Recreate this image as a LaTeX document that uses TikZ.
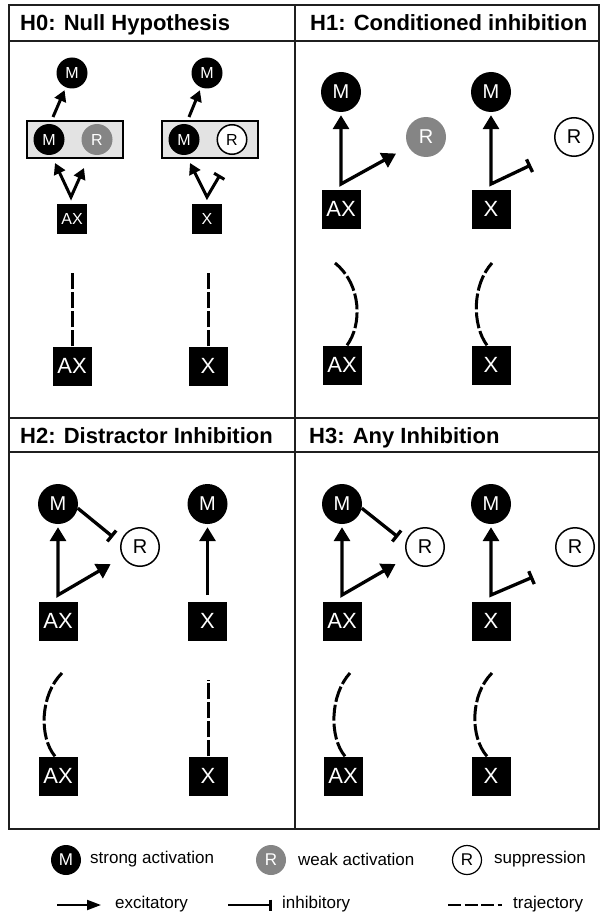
\documentclass[tikz,border=0pt]{standalone}
\usepackage{fontspec}
\setmainfont{Liberation Sans}
\usetikzlibrary{arrows.meta,calc}
\definecolor{midgray}{gray}{0.52}
\definecolor{boxgray}{gray}{0.89}
\definecolor{framec}{gray}{0.12}
\begin{document}
\begin{tikzpicture}[x=1pt,y=-1pt,
  frame/.style={draw=framec, line width=2pt},
  ttl/.style={anchor=base west, font=\fontsize{22}{26}\selectfont\bfseries, inner sep=0pt},
  bM/.style={circle, fill=black, minimum size=40pt, inner sep=0pt, text=white, font=\fontsize{20}{20}\selectfont},
  bRg/.style={circle, fill=midgray, minimum size=40pt, inner sep=0pt, text=white, font=\fontsize{20}{20}\selectfont},
  bRo/.style={circle, draw=black, line width=1.5pt, fill=white, minimum size=38.5pt, inner sep=0pt, font=\fontsize{20}{20}\selectfont},
  sM/.style={circle, fill=black, minimum size=31pt, inner sep=0pt, text=white, font=\fontsize{16}{16}\selectfont},
  sRg/.style={circle, fill=midgray, minimum size=31pt, inner sep=0pt, text=white, font=\fontsize{16}{16}\selectfont},
  sRo/.style={circle, draw=black, line width=1.5pt, fill=white, minimum size=29.5pt, inner sep=0pt, font=\fontsize{16}{16}\selectfont},
  lM/.style={circle, fill=black, minimum size=30pt, inner sep=0pt, text=white, font=\fontsize{17}{17}\selectfont},
  lRg/.style={circle, fill=midgray, minimum size=30pt, inner sep=0pt, text=white, font=\fontsize{17}{17}\selectfont},
  lRo/.style={circle, draw=black, line width=1.2pt, fill=white, minimum size=29pt, inner sep=0pt, font=\fontsize{17}{17}\selectfont},
  bbox/.style={rectangle, fill=black, minimum size=39pt, inner sep=0pt, text=white, font=\fontsize{22}{22}\selectfont},
  sbox/.style={rectangle, fill=black, minimum size=30pt, inner sep=0pt, text=white, font=\fontsize{16}{16}\selectfont},
  gbox/.style={rectangle, draw=black, line width=2pt, fill=boxgray, minimum width=96pt, minimum height=37pt, inner sep=0pt},
  lt/.style={anchor=west, inner sep=0pt, font=\fontsize{17}{19}\selectfont},
  exc/.style={line width=3.3pt, -{Triangle[width=16pt,length=14pt]}},
  exc2/.style={line width=3.3pt, line join=miter, {Triangle[width=16pt,length=14pt]}-{Triangle[width=16pt,length=14pt]}},
  excinh/.style={line width=3.3pt, line join=miter, {Triangle[width=16pt,length=14pt]}-{Bar[width=14pt]}},
  inh/.style={line width=3.3pt, -{Bar[width=14pt]}},
  sexc/.style={line width=3pt, -{Triangle[width=12pt,length=11pt]}},
  sexc2/.style={line width=3pt, line join=miter, {Triangle[width=12pt,length=11pt]}-{Triangle[width=12pt,length=11pt]}},
  sexcinh/.style={line width=3pt, line join=miter, {Triangle[width=12pt,length=11pt]}-{Bar[width=12pt]}},
  traj/.style={line width=3pt, dash pattern=on 16pt off 3pt},
  lexc/.style={line width=2pt, -{Triangle[width=10pt,length=14pt]}},
  linh/.style={line width=2pt, -{Bar[width=11pt,line width=3pt]}},
  ltraj/.style={line width=2.5pt, dash pattern=on 13pt off 3.5pt}
]
\useasboundingbox (0,0) rectangle (600,920);
\fill[white] (0,0) rectangle (600,920);

% frame
\draw[frame] (9,5) rectangle (599,829);
\draw[frame] (9,41) -- (599,41);
\draw[frame] (9,418) -- (599,418);
\draw[frame] (9,452) -- (599,452);
\draw[frame] (295,5) -- (295,829);

% titles
\node[ttl] (t0) at (20,31) {H0: Null Hypothesis};
\node[ttl] (t1) at (310,31) {H1: Conditioned inhibition};
\node[ttl] (t2) at (20,443) {H2: Distractor Inhibition};
\node[ttl] (t3) at (309,443) {H3: Any Inhibition};

% ---------- H0 ----------
\node[sM] (h0m1) at (72,73) {M};
\node[sM] (h0m2) at (207,73) {M};
\node[gbox] (h0g1) at (75,139.5) {};
\node[gbox] (h0g2) at (210,139.5) {};
\node[sM] (h0gm1) at (49,139.5) {M};
\node[sRg] (h0gr1) at (97,139.5) {R};
\node[sM] (h0gm2) at (184,139.5) {M};
\node[sRo] (h0gr2) at (232,139.5) {R};
\node[sbox] (h0ax) at (72,218.5) {AX};
\node[sbox] (h0x) at (207,218.5) {X};
\coordinate (h0t1) at (53,117);
\coordinate (h0t2) at (189,117);
\draw[sexc, shorten >=3pt] (h0t1) -- (h0m1);
\draw[sexc, shorten >=3pt] (h0t2) -- (h0m2);
\coordinate (h0v1) at (71,197);
\coordinate (h0l1) at (55,163);
\coordinate (h0r1) at (84,168);
\draw[sexc2] (h0l1) -- (h0v1) -- (h0r1);
\coordinate (h0v2) at (207,197);
\coordinate (h0l2) at (190,163);
\coordinate (h0r2) at (220,175);
\draw[sexcinh] (h0l2) -- (h0v2) -- (h0r2);
\node[bbox] (h0AX) at (72,366) {AX};
\node[bbox] (h0X) at (208,366) {X};
\coordinate (h0e1) at (72,271);
\coordinate (h0e2) at (208,271);
\draw[traj] (h0AX.north) -- (h0e1);
\draw[traj] (h0X.north) -- (h0e2);

% ---------- H1 ----------
\node[bM] (h1m1) at (341,92) {M};
\node[bRg] (h1r1) at (426,137) {R};
\node[bbox] (h1ax) at (341,209) {AX};
\coordinate (h1j1) at (341,184);
\draw[exc2, shorten <=3pt, shorten >=14pt] (h1m1) -- (h1j1) -- (h1r1);
\node[bM] (h1m2) at (491,92) {M};
\node[bRo] (h1r2) at (574,137) {R};
\node[bbox] (h1x) at (491,209) {X};
\coordinate (h1j2) at (491,184);
\coordinate (h1b2) at (531,165);
\draw[excinh, shorten <=3pt] (h1m2) -- (h1j2) -- (h1b2);
\node[bbox] (h1AX) at (342,365) {AX};
\node[bbox] (h1X) at (491,365) {X};
\coordinate (h1e1) at (335,263);
\coordinate (h1e2) at (492,263);
\draw[traj] ([xshift=5pt]h1AX.north) .. controls (362,325) and (362,285) .. (h1e1);
\draw[traj] ([xshift=-4pt]h1X.north) .. controls (472,325) and (472,285) .. (h1e2);

% ---------- H2 ----------
\node[bM] (h2m1) at (58,504) {M};
\node[bRo] (h2r1) at (140,547) {R};
\node[bbox] (h2ax) at (58,621) {AX};
\coordinate (h2j1) at (58,595);
\draw[exc2, shorten <=3pt, shorten >=14pt] (h2m1) -- (h2j1) -- (h2r1);
\coordinate (h2b1) at (113,537);
\draw[inh] (h2m1.-12) -- (h2b1);
\node[bM] (h2m2) at (207.5,504) {M};
\node[bbox] (h2x) at (207.5,621) {X};
\coordinate (h2j2) at (207.5,595);
\draw[exc, shorten >=3pt] (h2j2) -- (h2m2);
\node[bbox] (h2AX) at (58,776) {AX};
\node[bbox] (h2X) at (208,776) {X};
\coordinate (h2e1) at (62,673);
\coordinate (h2e2) at (208,680);
\draw[traj] ([xshift=-3pt]h2AX.north) .. controls (39,737) and (40,695) .. (h2e1);
\draw[traj] (h2X.north) -- (h2e2);

% ---------- H3 ----------
\node[bM] (h3m1) at (342,504) {M};
\node[bRo] (h3r1) at (425,547) {R};
\node[bbox] (h3ax) at (342,621) {AX};
\coordinate (h3j1) at (342,595);
\draw[exc2, shorten <=3pt, shorten >=14pt] (h3m1) -- (h3j1) -- (h3r1);
\coordinate (h3b1) at (398,537);
\draw[inh] (h3m1.-12) -- (h3b1);
\node[bM] (h3m2) at (491,504) {M};
\node[bRo] (h3r2) at (575,547) {R};
\node[bbox] (h3x) at (491,621) {X};
\coordinate (h3j2) at (491,595);
\coordinate (h3b2) at (533,577);
\draw[excinh, shorten <=3pt] (h3m2) -- (h3j2) -- (h3b2);
\node[bbox] (h3AX) at (343,776) {AX};
\node[bbox] (h3X) at (491,776) {X};
\coordinate (h3e1) at (350,673);
\coordinate (h3e2) at (492,673);
\draw[traj] ([xshift=2pt]h3AX.north) .. controls (329,737) and (330,695) .. (h3e1);
\draw[traj] ([xshift=-4pt]h3X.north) .. controls (470,737) and (470,695) .. (h3e2);

% ---------- legend ----------
\node[lM] (lg1) at (66,860) {M};
\node[lt] (lg1t) at (90,859) {strong activation};
\node[lRg] (lg2) at (271,860) {R};
\node[lt] (lg2t) at (298,859) {weak activation};
\node[lRo] (lg3) at (467,860) {R};
\node[lt] (lg3t) at (494,859) {suppression};
\coordinate (la1) at (57,905);
\coordinate (la2) at (101,905);
\draw[lexc] (la1) -- (la2);
\node[lt] (la) at (115,904) {excitatory};
\coordinate (li1) at (228,905);
\coordinate (li2) at (272,905);
\draw[linh] (li1) -- (li2);
\node[lt] (li) at (282,904) {inhibitory};
\coordinate (ld1) at (448,905);
\coordinate (ld2) at (502,905);
\draw[ltraj] (ld1) -- (ld2);
\node[lt] (ld) at (513,904) {trajectory};
\end{tikzpicture}
\end{document}
